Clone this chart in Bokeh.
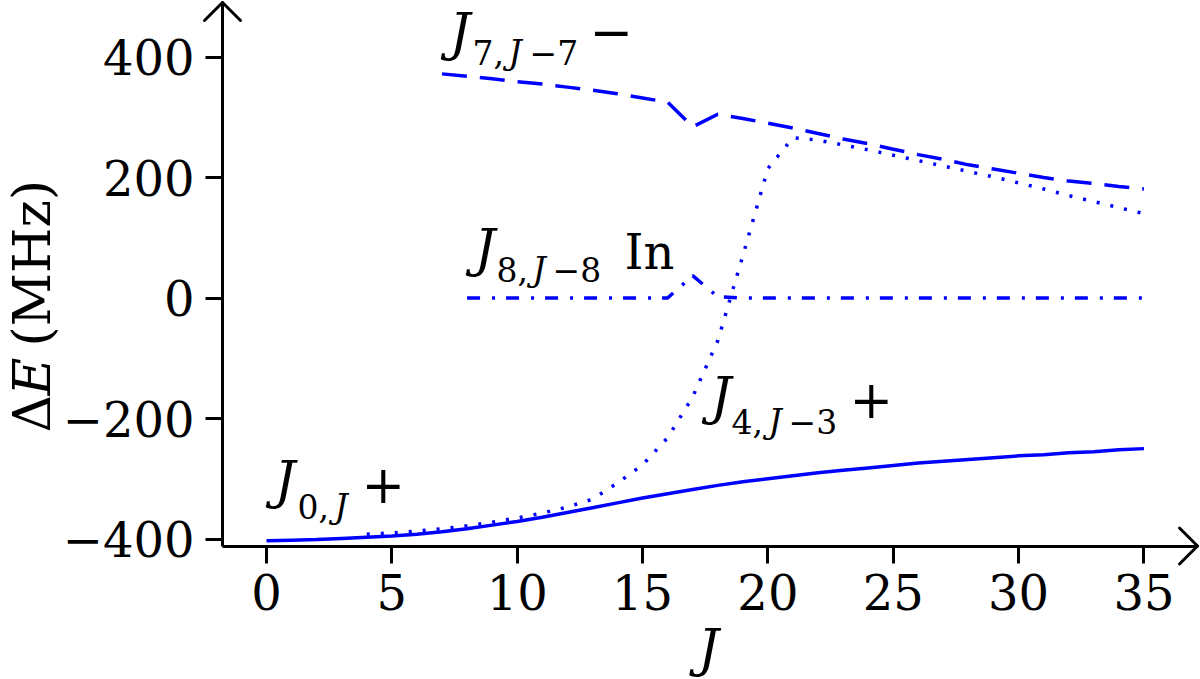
import math
from bokeh.plotting import figure
from bokeh.models import Label, Arrow, FixedTicker, Range1d, CustomJSTickFormatter
from bokeh.embed import file_html
from bokeh.resources import INLINE

# ---------------- data ----------------
J_solid = [0, 1, 2, 3, 4, 5, 6, 7, 8, 9, 10, 11, 12, 13, 14, 15, 16, 17, 18, 19,
           20, 21, 22, 23, 24, 25, 26, 27, 28, 29, 30, 31, 32, 33, 34, 35]
E_solid = [-403, -402, -401, -399, -397, -395, -392, -388, -383, -377, -371, -364,
           -356, -348, -340, -332, -325, -318, -311, -305, -300, -295, -290, -286,
           -282, -278, -274, -271, -268, -265, -262, -260, -257, -255, -252, -250]

J_dot = [4, 5, 6, 7, 8, 9, 10, 11, 12, 13, 14, 15, 16, 17, 18, 19, 20, 21, 22, 23,
         24, 25, 26, 27, 28, 29, 30, 31, 32, 33, 34, 35]
E_dot = [-392, -390, -387, -383, -378, -372, -365, -357, -347, -334, -307, -277,
         -232, -164, -71, 70, 215, 266, 262, 254, 246, 237, 228, 219, 210, 201,
         191, 181, 170, 160, 150, 140]

J_dash = [7, 8, 9, 10, 11, 12, 13, 14, 15, 16, 17, 18, 19, 20, 21, 22, 23, 24, 25,
          26, 27, 28, 29, 30, 31, 32, 33, 34, 35]
E_dash = [372, 368, 364, 359, 355, 350, 345, 339, 332, 325, 284, 305, 298, 290, 282,
          273, 264, 256, 247, 238, 230, 221, 214, 207, 200, 194, 190, 185, 181]

J_dd = [8, 9, 10, 11, 12, 13, 14, 15, 16, 17, 18, 19, 20, 21, 22, 23, 24, 25, 26,
        27, 28, 29, 30, 31, 32, 33, 34, 35]
E_dd = [0, 0, 0, 0, 0, 0, 0, 0, 0, 37, 2, 0, 0, 0, 0, 0, 0, 0, 0,
        0, 0, 0, 0, 0, 0, 0, 0, 0]

x_ticks = [0, 5, 10, 15, 20, 25, 30, 35]
y_ticks = [-400, -200, 0, 200, 400]

# ---------------- geometry (pixels of the 1200x679 canvas) ----------------
W, H = 1200, 679
PX0, SX = 266.0, 25.07      # canvas x of J=0, px per unit J
PY0, SY = 297.5, 0.6025     # canvas y of E=0, px per MHz
X0, X1 = -PX0 / SX, (W - PX0) / SX
Y0, Y1 = (PY0 - H) / SY, PY0 / SY


def rx(px):  # canvas pixel -> data x
    return (px - PX0) / SX


def ry(py):  # canvas pixel -> data y
    return (PY0 - py) / SY


AX_X = rx(222)      # position of the vertical axis
AX_Y = ry(545.5)    # position of the horizontal axis
TIP_X = rx(1197)
TIP_Y = ry(2)

BLUE = "#0000ff"
FONT = "DejaVu Serif"

p = figure(width=W, height=H, x_range=Range1d(X0, X1), y_range=Range1d(Y0, Y1),
           output_backend="svg", toolbar_location=None, min_border=0)
p.title.visible = False
p.outline_line_color = None
p.xgrid.visible = False
p.ygrid.visible = False
p.background_fill_color = "white"
p.border_fill_color = "white"

for ax in (p.xaxis[0], p.yaxis[0]):
    ax.axis_line_width = 3
    ax.axis_line_color = "black"
    ax.major_tick_line_width = 3
    ax.major_tick_line_color = "black"
    ax.major_tick_in = 0
    ax.major_tick_out = 17
    ax.minor_tick_in = 0
    ax.minor_tick_out = 0
    ax.major_label_text_font = FONT
    ax.major_label_text_font_size = "48px"
    ax.major_label_text_color = "black"
    ax.formatter = CustomJSTickFormatter(
        code='return (tick < 0 ? "\\u2212" : "") + Math.abs(tick).toString();')

p.xaxis.ticker = FixedTicker(ticks=x_ticks)
p.yaxis.ticker = FixedTicker(ticks=y_ticks)
p.xaxis.fixed_location = AX_Y
p.yaxis.fixed_location = AX_X
p.xaxis.bounds = (AX_X, TIP_X)
p.yaxis.bounds = (AX_Y, TIP_Y)
p.xaxis.major_label_standoff = 11
p.yaxis.major_label_standoff = 11

# ---------------- curves ----------------
p.line(J_solid, E_solid, line_color=BLUE, line_width=3.5)
p.line(J_dash, E_dash, line_color=BLUE, line_width=3.5, line_dash="25 13")
p.line(J_dd, E_dd, line_color=BLUE, line_width=3.5, line_dash="13 12 3 11")
p.line(J_dot, E_dot, line_color=BLUE, line_width=3.5, line_dash="3 11")

# ---------------- axis arrow heads ----------------
AH = 18
for (xs, ys, xe, ye) in [
    (TIP_X - AH / SX, AX_Y + AH / SY, TIP_X, AX_Y),
    (TIP_X - AH / SX, AX_Y - AH / SY, TIP_X, AX_Y),
    (AX_X - AH / SX, TIP_Y - AH / SY, AX_X, TIP_Y),
    (AX_X + AH / SX, TIP_Y - AH / SY, AX_X, TIP_Y),
]:
    p.add_layout(Arrow(end=None, x_start=xs, y_start=ys, x_end=xe, y_end=ye,
                       line_width=3, line_color="black", line_cap="round"))

MID = 0.346   # distance from baseline to the middle of the text box, in em


def txt(s, px, py, size, style="normal", rotated=False, align="left"):
    # (px, py) is the wanted baseline start; place the label by its middle
    if rotated:
        px -= MID * size
    else:
        py -= MID * size
    p.add_layout(Label(x=rx(px), y=ry(py), text=s, text_font=FONT,
                       text_font_style=style, text_font_size=f"{size}px",
                       text_color="black", text_baseline="middle",
                       text_align=align, angle=math.pi / 2 if rotated else 0.0))


BIG, SUB = 52, 33

# J_{0,J} +
txt("J", 274, 497, BIG, "italic")
txt("0,", 297, 517, SUB)
txt("J", 334, 517, SUB, "italic")
txt("+", 361, 501, BIG)

# J_{7,J-7} -
txt("J", 449, 49, BIG, "italic")
txt("7,", 472, 63, SUB)
txt("J", 508, 63, SUB, "italic")
txt("\u22127", 529, 63, SUB)
txt("\u2212", 589, 48, BIG)

# J_{8,J-8} In
txt("J", 474, 265, BIG, "italic")
txt("8,", 496, 280, SUB)
txt("J", 532, 280, SUB, "italic")
txt("\u22128", 552, 280, SUB)
txt("In", 624, 268, 48)

# J_{4,J-3} +
txt("J", 710, 413, BIG, "italic")
txt("4,", 731, 432, SUB)
txt("J", 768, 432, SUB, "italic")
txt("\u22123", 788, 432, SUB)
txt("+", 849, 416, BIG)

# axis labels
txt("J", 708, 665, BIG, "italic", align="center")
txt("\u0394", 49, 432, BIG, rotated=True)
txt("E", 49, 395, BIG, "italic", rotated=True)
txt("(MHz)", 49, 346, BIG, rotated=True)

open("out.html", "w").write(file_html(p, INLINE))
